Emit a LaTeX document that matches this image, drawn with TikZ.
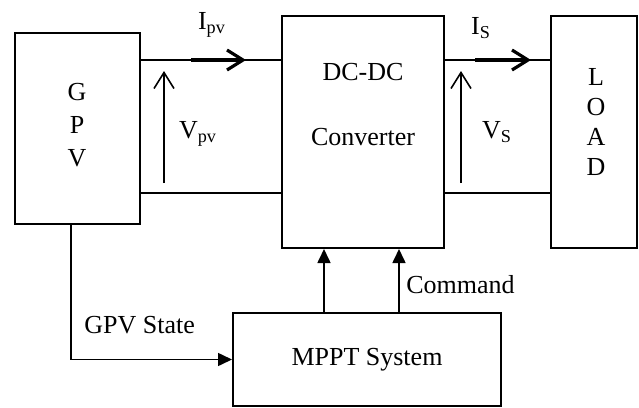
\documentclass[tikz,border=0pt]{standalone}
\usepackage{fontspec}
\setmainfont{Liberation Serif}
\usetikzlibrary{arrows.meta, positioning}

\begin{document}
\begin{tikzpicture}[x=0.5pt, y=-0.5pt,
  box/.style={rectangle, draw, line width=1pt, inner sep=0pt},
  lbl/.style={font=\fontsize{13}{15}\selectfont, inner sep=0pt},
  wire/.style={line width=1pt},
  iarrow/.style={-{Straight Barb[length=8pt, width=10pt]}, line width=1.6pt},
  varrow/.style={-{Straight Barb[length=8pt, width=10pt]}, line width=0.8pt},
  cmd/.style={-{Triangle[length=7pt, width=6.5pt]}, line width=0.8pt}
]
\useasboundingbox (0,0) rectangle (639,408);

% Blocks
\node[box, minimum width=62.5pt, minimum height=95.5pt] (gpv) at (77.5,128.5) {};
\node[box, minimum width=81pt, minimum height=116pt] (conv) at (363,132) {};
\node[box, minimum width=43pt, minimum height=116pt] (load) at (594,132) {};
\node[box, minimum width=134pt, minimum height=46.5pt, lbl] (mppt) at (367,359.5) {MPPT System};

% Block texts
\node[lbl, align=center] (gpvtxt) at (77,125) {G\\[1.5pt]P\\[1.5pt]V};
\node[lbl] (dcdc) at (363,72) {DC-DC};
\node[lbl] (convtxt) at (363,137) {Converter};
\node[lbl, align=center] (loadtxt) at (596,122) {L\\O\\A\\D};

% Wire levels
\coordinate (wtop) at (0,60);
\coordinate (wbot) at (0,193);
\draw[wire] (gpv.east |- wtop) -- (conv.west |- wtop);
\draw[wire] (gpv.east |- wbot) -- (conv.west |- wbot);
\draw[wire] (conv.east |- wtop) -- (load.west |- wtop);
\draw[wire] (conv.east |- wbot) -- (load.west |- wbot);

% Currents and voltages
\coordinate (ipv1) at (191,60);
\coordinate (ipv2) at (246,60);
\draw[iarrow] (ipv1) -- (ipv2);
\node[lbl] (ipv) at (212,25) {I\textsubscript{pv}};
\coordinate (vpv1) at (164,183);
\coordinate (vpv2) at (164,71);
\draw[varrow] (vpv1) -- (vpv2);
\node[lbl] (vpv) at (198,134) {V\textsubscript{pv}};

\coordinate (is1) at (475,60);
\coordinate (is2) at (531,60);
\draw[iarrow] (is1) -- (is2);
\node[lbl] (is) at (481,28) {I\textsubscript{S}};
\coordinate (vs1) at (461,183);
\coordinate (vs2) at (461,71);
\draw[varrow] (vs1) -- (vs2);
\node[lbl] (vs) at (497,132) {V\textsubscript{S}};

% Control
\coordinate (c1) at (324,0);
\coordinate (c2) at (399,0);
\draw[cmd] (mppt.north -| c1) -- (conv.south -| c1);
\draw[cmd] (mppt.north -| c2) -- (conv.south -| c2);
\node[lbl, anchor=west] (command) at (406,285) {Command};

\coordinate (gs) at (71,0);
\draw[cmd] (gpv.south -| gs) |- (mppt.west);
\node[lbl, anchor=west] (gpvstate) at (84,325) {GPV State};
\end{tikzpicture}
\end{document}
